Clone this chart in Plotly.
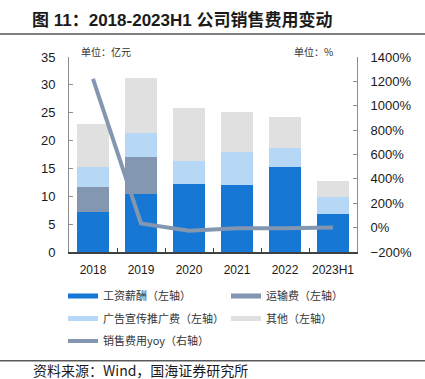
import plotly.graph_objects as go

categories = ["2018", "2019", "2020", "2021", "2022", "2023H1"]
wages = [7.2, 10.4, 12.2, 12.0, 15.2, 6.9]          # 工资薪酬
transport = [4.4, 6.6, 0, 0, 0, 0]                  # 运输费
advert = [3.6, 4.3, 4.1, 5.9, 3.4, 2.9]             # 广告宣传推广费
others = [7.7, 10.0, 9.5, 7.2, 5.7, 3.0]            # 其他
yoy = [1220, 35, -26, -6, -6, 2]                    # 销售费用yoy (%)

names = ["工资薪酬（左轴）", "运输费（左轴）", "广告宣传推广费（左轴）", "其他（左轴）"]
colors = ["#1677D4", "#8497B0", "#B7D7F7", "#E0E0E0"]
line_name = "销售费用yoy（右轴）"
line_color = "#8497B0"

W, H = 425, 379
L, R, T, B = 69, 357, 56.5, 252  # plot area in px


def px_x(x):
    return (x - L) / (R - L)


def px_y(y):
    return (B - y) / (B - T)


FONT = "Liberation Sans, Arial, Noto Sans CJK SC"
CJK = "Noto Sans CJK SC, Liberation Sans"

fig = go.Figure()
series = [wages, transport, advert, others]
for nm, vals, c in zip(names, series, colors):
    fig.add_trace(go.Bar(x=categories, y=vals, name=nm, marker_color=c,
                         marker_line_width=0, showlegend=False, yaxis="y"))

fig.add_trace(go.Scatter(x=categories, y=yoy, name=line_name, mode="lines",
                         line=dict(color=line_color, width=4), yaxis="y2", showlegend=False))

# legend entries (line symbols as in the reference), one legend per entry
leg_ids = ["legend", "legend2", "legend3", "legend4"]
for nm, c, lg in zip(names, colors, leg_ids):
    fig.add_trace(go.Scatter(x=[None], y=[None], mode="lines", name=nm,
                             line=dict(color=c, width=5), legend=lg, yaxis="y"))
fig.add_trace(go.Scatter(x=[None], y=[None], mode="lines", name=line_name,
                         line=dict(color=line_color, width=4), legend="legend5", yaxis="y2"))

leg_common = dict(xref="container", yref="container", xanchor="left",
                  yanchor="middle", font=dict(family=CJK, size=11, color="#333333"),
                  bgcolor="rgba(0,0,0,0)", itemclick=False, itemdoubleclick=False)

col1, col2 = 63, 226
row1, row2, row3 = 296, 318.5, 341

fig.update_layout(
    width=W, height=H,
    margin=dict(l=L, r=W - R, t=T, b=H - B, autoexpand=False),
    paper_bgcolor="white", plot_bgcolor="white",
    barmode="stack", bargap=0.33,
    font=dict(family=FONT, size=13, color="#1a1a1a"),
    xaxis=dict(type="category", showline=True, linecolor="#404040", linewidth=1.5,
               ticks="inside", tickson="boundaries", ticklen=4, tickcolor="#404040",
               tickfont=dict(size=12), showgrid=False, ticklabelstandoff=6, tickangle=0,
               automargin=False),
    yaxis=dict(range=[0, 35], dtick=5, showline=True, linecolor="#8c8c8c", linewidth=1,
               ticks="inside", ticklen=4, tickcolor="#8c8c8c", showgrid=False,
               zeroline=False, tickfont=dict(size=13), ticklabelstandoff=10, automargin=False),
    yaxis2=dict(range=[-200, 1400], dtick=200, overlaying="y", side="right",
                showline=True, linecolor="#8c8c8c", linewidth=1, ticks="inside",
                ticklen=4, tickcolor="#8c8c8c", ticksuffix="%", showgrid=False,
                zeroline=False, tickfont=dict(size=13), ticklabelstandoff=10, automargin=False),
    title=dict(text="<b>图 11：2018-2023H1 公司销售费用变动</b>", xref="container",
               yref="container", x=32 / W, xanchor="left", y=1 - 20 / H, yanchor="middle",
               font=dict(family="Liberation Sans, Noto Sans CJK SC", size=17, color="#1a1a1a"),
               automargin=False),
    legend=dict(x=col1 / W, y=1 - row1 / H, **leg_common),
    legend2=dict(x=col2 / W, y=1 - row1 / H, **leg_common),
    legend3=dict(x=col1 / W, y=1 - row2 / H, **leg_common),
    legend4=dict(x=col2 / W, y=1 - row2 / H, **leg_common),
    legend5=dict(x=col1 / W, y=1 - row3 / H, **leg_common),
)

fig.add_annotation(text="单位：亿元", xref="paper", yref="paper", x=px_x(79), y=px_y(51),
                   xanchor="left", yanchor="middle", showarrow=False,
                   font=dict(family=CJK, size=10, color="#333333"))
fig.add_annotation(text="单位：%", xref="paper", yref="paper", x=px_x(292), y=px_y(51),
                   xanchor="left", yanchor="middle", showarrow=False,
                   font=dict(family=CJK, size=10, color="#333333"))
fig.add_annotation(text="资料来源：Wind，国海证券研究所", xref="paper", yref="paper",
                   x=px_x(31), y=px_y(370.5), xanchor="left", yanchor="middle", showarrow=False,
                   font=dict(family=CJK, size=14, color="#1a1a1a"))

fig.add_shape(type="line", xref="paper", yref="paper", x0=px_x(0), x1=px_x(W),
              y0=px_y(33.5), y1=px_y(33.5), line=dict(color="#7f7f7f", width=2))
fig.add_shape(type="line", xref="paper", yref="paper", x0=px_x(0), x1=px_x(W),
              y0=px_y(361), y1=px_y(361), line=dict(color="#595959", width=1.5))

fig.write_html("out.html", config={"displayModeBar": False},
               post_script="document.body.style.margin='0';document.body.style.overflow='hidden';")
